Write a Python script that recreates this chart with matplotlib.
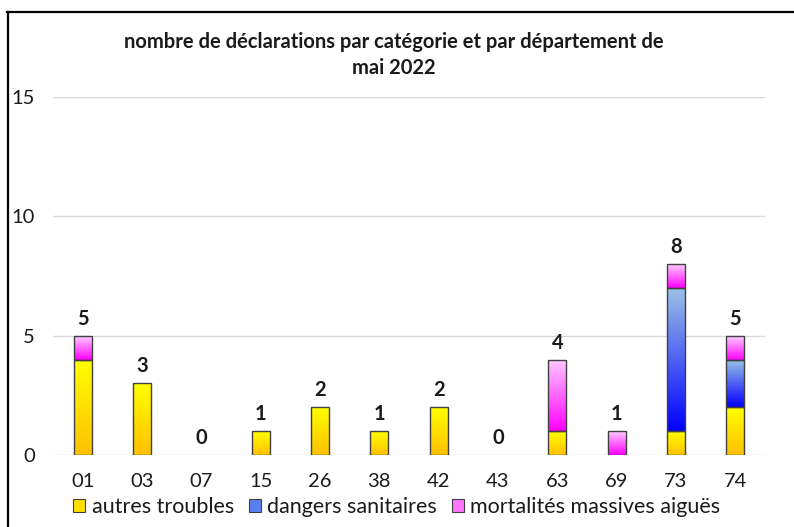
import numpy as np
import matplotlib
matplotlib.use('Agg')
import matplotlib.pyplot as plt
import matplotlib.patches as mpatches
from matplotlib.lines import Line2D
from matplotlib.colors import LinearSegmentedColormap

plt.rcParams['font.family'] = ['Lato', 'DejaVu Sans']

# Data
departements = ['01', '03', '07', '15', '26', '38', '42', '43', '63', '69', '73', '74']
autres_troubles = [4, 3, 0, 1, 2, 1, 2, 0, 1, 0, 1, 2]
dangers_sanitaires = [0, 0, 0, 0, 0, 0, 0, 0, 0, 0, 6, 2]
mortalites = [1, 0, 0, 0, 0, 0, 0, 0, 3, 1, 1, 1]
series_names = ['autres troubles', 'dangers sanitaires', 'mortalités massives aiguës']

# gradient colours (bottom, top) for each series
gradients = [('#FFC000', '#FFFF00'), ('#0000FF', '#9DC3E6'), ('#FF00FF', '#FFCCFF')]
mid_colors = ['#FFDF00', '#5A7FF0', '#FF77FF']

fig = plt.figure(figsize=(7.94, 5.27), dpi=100)
ax = fig.add_axes([53 / 794, 1 - 455 / 527, 712 / 794, (455 - 97) / 527])

x = np.arange(len(departements))
width = 0.30
bottom = np.zeros(len(departements))
all_series = [autres_troubles, dangers_sanitaires, mortalites]

for vals, (c0, c1) in zip(all_series, gradients):
    vals = np.array(vals, dtype=float)
    cmap = LinearSegmentedColormap.from_list('g', [c0, c1])
    keep = vals > 0
    bars = ax.bar(x[keep], vals[keep], width, bottom=bottom[keep], facecolor='none',
                  edgecolor='#404040', linewidth=1.0, zorder=3)
    for rect in bars:
        x0 = rect.get_x()
        y0 = rect.get_y()
        grad = np.linspace(0, 1, 256).reshape(-1, 1)
        im = ax.imshow(grad, cmap=cmap, origin='lower', aspect='auto',
                       extent=[x0, x0 + rect.get_width(), y0, y0 + rect.get_height()],
                       zorder=2)
        im.set_clip_path(rect)
    bottom += vals

# totals above bars
for xi, total in zip(x, bottom):
    ax.annotate(f'{int(total)}', xy=(xi, total), xytext=(0, 5), textcoords='offset points',
                ha='center', va='bottom', fontsize=14.5, fontweight='bold', color='#1a1a1a')

ax.set_xlim(-0.5, len(departements) - 0.5)
ax.set_ylim(0, 15)
ax.set_yticks([0, 5, 10, 15])
ax.set_xticks(x)
ax.set_xticklabels(departements)
ax.tick_params(axis='both', length=0, labelsize=14.5, colors='#1a1a1a')
ax.tick_params(axis='y', pad=13)
ax.tick_params(axis='x', pad=13)
ax.grid(axis='y', color='#d9d9d9', linewidth=1, zorder=0)
ax.set_axisbelow(True)
for s in ax.spines.values():
    s.set_visible(False)

fig.text(0.496, 1 - 42 / 527, 'nombre de déclarations par catégorie et par département de',
         ha='center', va='center', fontsize=14.5, fontweight='bold', color='#1a1a1a')
fig.text(0.496, 1 - 68 / 527, 'mai 2022', ha='center', va='center',
         fontsize=14.5, fontweight='bold', color='#1a1a1a')

handles = [mpatches.Patch(facecolor=c, edgecolor='#404040', linewidth=0.8) for c in mid_colors]
fig.legend(handles, series_names, loc='center', bbox_to_anchor=(0.5, 1 - 507 / 527),
           ncol=3, frameon=False, fontsize=15.5, handlelength=0.55, handleheight=0.55,
           handletextpad=0.3, columnspacing=0.7, labelcolor='#1a1a1a')

# frame pieces visible in the screenshot (top and left)
fig.add_artist(Line2D([7 / 794, 1], [1 - 12 / 527, 1 - 12 / 527], color='black', linewidth=1.6))
fig.add_artist(Line2D([8 / 794, 8 / 794], [0, 1 - 12 / 527], color='black', linewidth=1.6))

fig.savefig('out.png', dpi=100)
